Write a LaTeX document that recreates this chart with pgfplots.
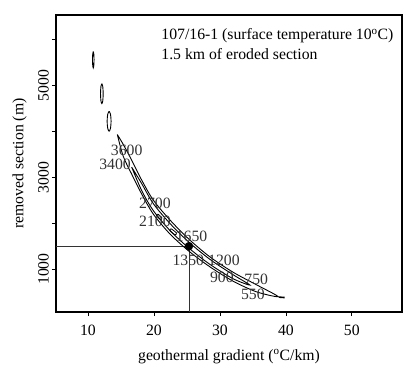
\documentclass[border=0pt]{standalone}
\usepackage{pgfplots}
\pgfplotsset{compat=1.18}
\usepackage{fontspec}
\setmainfont{Liberation Serif}
\begin{document}
\begin{tikzpicture}
\begin{axis}[
  scale only axis, width=346bp, height=297bp,
  xmin=5.15, xmax=57.6, ymin=65, ymax=6540,
  axis line style={line width=1.1pt, black},
  xtick={10,20,30,40,50},
  ytick={1000,2000,3000,4000,5000,6000},
  yticklabels={1000,,3000,,5000,},
  tick align=outside, xtick pos=bottom, ytick pos=left,
  major tick length=4bp,
  tick style={line width=0.8pt, black},
  /pgf/number format/assume math mode=true,
  font=\fontsize{15.8}{18}\selectfont,
  yticklabel style={rotate=90, anchor=south, inner sep=3pt},
  xticklabel style={inner sep=9pt},
  xlabel={geothermal gradient (\textsuperscript{o}C/km)},
  ylabel={removed section (m)},
  xlabel style={yshift=-1pt},
  ylabel style={yshift=5pt},
]
% crosshair
\addplot[line width=0.6pt, black!80] coordinates {(5.15,1500) (25.3,1500) (25.3,65)};
% small ellipses
\addplot[line width=0.9pt, smooth] coordinates {(10.8,5745) (10.88,5690) (10.92,5565) (10.88,5440) (10.8,5385) (10.72,5440) (10.68,5565) (10.72,5690) (10.8,5745)};
\addplot[line width=0.9pt, smooth] coordinates {(12.1,5043) (12.24,4980) (12.3,4826) (12.24,4670) (12.1,4609) (11.96,4670) (11.9,4826) (11.96,4980) (12.1,5043)};
\addplot[line width=0.9pt, smooth] coordinates {(13.2,4441) (13.41,4378) (13.5,4224) (13.41,4070) (13.2,4007) (12.99,4070) (12.9,4224) (12.99,4378) (13.2,4441)};
% outer band
\addplot[line width=0.9pt, smooth, tension=0.5] coordinates {
 (14.44,3935) (15.35,3717) (16.62,3376) (18.14,2941) (19.89,2507) (22.42,2072) (25.30,1652) (28.48,1267) (32.02,930) (35.56,657) (38.79,402)
 (35.56,504) (32.02,735) (28.48,1050) (25.30,1391) (22.42,1767) (19.89,2202) (18.14,2637) (16.62,3072) (15.35,3457) (14.44,3935)};
% inner band
\addplot[line width=0.9pt, smooth, tension=0.5] coordinates {
 (16.62,3224) (18.14,2865) (19.89,2430) (22.42,1996) (25.30,1587) (28.48,1213) (32.02,876) (34.55,652)
 (32.02,789) (28.48,1104) (25.30,1457) (22.42,1843) (19.89,2278) (18.14,2713) (16.62,3224)};
% small ellipses inside band
\addplot[line width=0.8pt, smooth] coordinates {(20.6,2200) (21.2,2120) (21.0,2080) (20.4,2160) (20.6,2200)};
\addplot[line width=0.8pt, smooth] coordinates {(22.6,1880) (23.4,1790) (23.2,1750) (22.4,1840) (22.6,1880)};
% small dash at end
\addplot[line width=1.6pt] coordinates {(38.9,390) (39.8,380)};
% dot
\addplot[only marks, mark=*, mark size=4bp, black] coordinates {(25.3,1500)};
% labels
\begin{scope}[every node/.style={font=\fontsize{15.8}{18}\selectfont, text=black!80, inner sep=0pt}]
\node at (axis cs:15.86,3587) {3600};
\node at (axis cs:14.1,3283) {3400};
\node at (axis cs:20.15,2441) {2700};
\node at (axis cs:20.15,2043) {2100};
\node at (axis cs:25.7,1717) {1650};
\node at (axis cs:25.2,1196) {1350};
\node at (axis cs:30.6,1185) {1200};
\node at (axis cs:30.3,830) {900};
\node at (axis cs:35.5,770) {750};
\node at (axis cs:35.0,440) {550};
\end{scope}
\node[anchor=west, inner sep=0pt, font=\fontsize{15.8}{18}\selectfont] at (axis cs:21.1,6080) {107/16-1 (surface temperature 10\textsuperscript{o}C)};
\node[anchor=west, inner sep=0pt, font=\fontsize{15.8}{18}\selectfont] at (axis cs:21.1,5690) {1.5 km of eroded section};
\end{axis}
\pgfresetboundingbox
\path ([shift={(-56bp,-54bp)}]current axis.south west) rectangle ([shift={(2bp,15bp)}]current axis.north east);
\end{tikzpicture}
\end{document}
